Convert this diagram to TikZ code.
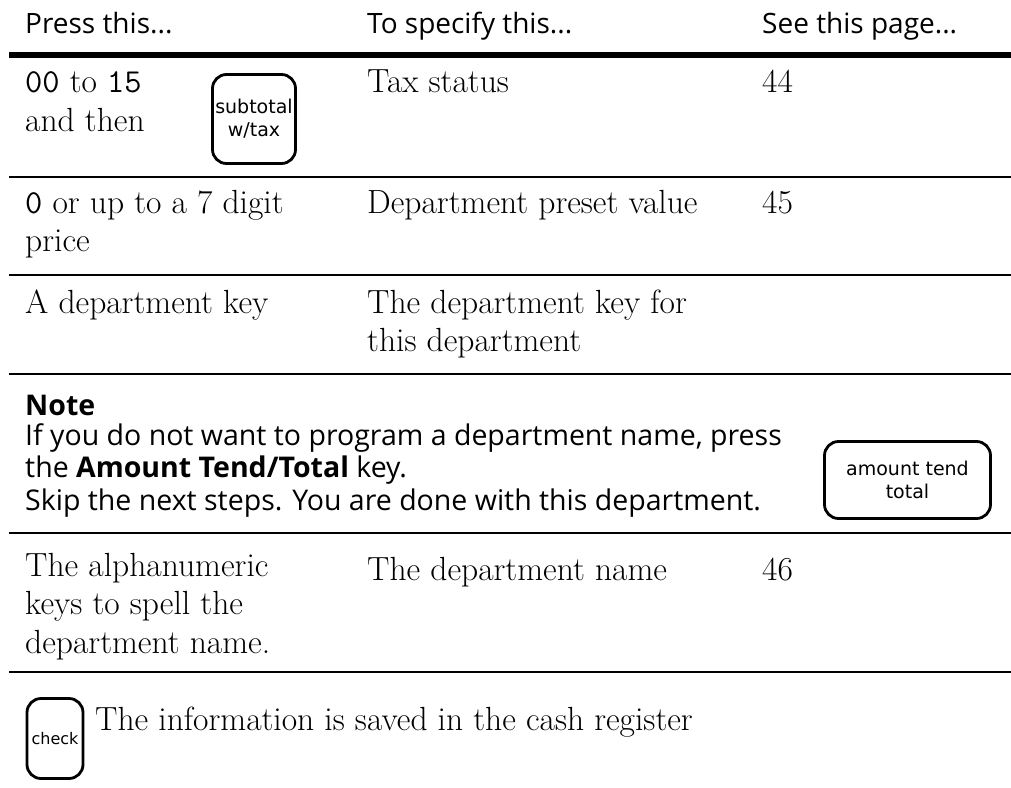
\documentclass[tikz,border=0pt]{standalone}
\usepackage{fontspec}
\setsansfont{Open Sans}
\newfontfamily\keyfont{DejaVu Sans}
\usetikzlibrary{positioning}

\begin{document}
\begin{tikzpicture}[
    x=1pt, y=-1pt,
    every node/.style={inner sep=0pt},
    hdr/.style={anchor=base west, font=\sffamily\fontsize{28}{30}\selectfont},
    cell/.style={anchor=base west, align=left,
                 font=\fontsize{33.5}{38.5}\selectfont},
    note/.style={anchor=base west, align=left,
                 font=\sffamily\fontsize{28.5}{32.5}\selectfont},
    key/.style={draw, line width=2.8pt, rounded corners=14pt, align=center,
                font=\keyfont\fontsize{19}{23}\selectfont},
    thickrule/.style={line width=6pt},
    rowrule/.style={line width=2.7pt},
]
\useasboundingbox (0,0) rectangle (1011,787);

%% Header
\node[hdr] (hpress) at (25,33)  {Press this...};
\node[hdr] (hspec)  at (367,33) {To specify this...};
\node[hdr] (hpage)  at (762,33) {See this page...};
\draw[thickrule] (9,55) -- (1011,55);

%% Row 1 (multi-line cells sit on their last baseline)
\node[cell] (press1) at (25,131)  {\texttt{00} to \texttt{15}\\and then};
\node[key, minimum width=83pt, minimum height=89pt] (subtotal) at (254,119) {subtotal\\w/tax};
\node[cell] (spec1)  at (367,92) {Tax status};
\node[cell] (page1)  at (762,92) {44};
\draw[rowrule] (9,177) -- (1011,177);

%% Row 2
\node[cell] (press2) at (25,251.5)  {\texttt{0} or up to a 7 digit\\price};
\node[cell] (spec2)  at (367,213) {Department preset value};
\node[cell] (page2)  at (762,213) {45};
\draw[rowrule] (9,275) -- (1011,275);

%% Row 3
\node[cell] (press3) at (25,313)  {A department key};
\node[cell] (spec3)  at (367,351.5) {The department key for\\this department};
\draw[rowrule] (9,374) -- (1011,374);

%% Note
\node[note] (notehead) at (25,415) {\textbf{Note}};
\node[note] (notetext) at (25,510) {If you do not want to program a department name, press\\
  the \textbf{Amount Tend/Total} key.\\Skip the next steps. You are done with this department.};
\node[key, minimum width=166pt, minimum height=77pt] (amount) at (907.5,480) {amount tend\\total};
\draw[rowrule] (9,533) -- (1011,533);

%% Row 4
\node[cell] (press4) at (25,653)  {The alphanumeric\\keys to spell the\\department name.};
\node[cell] (spec4)  at (367,580) {The department name};
\node[cell] (page4)  at (762,580) {46};
\draw[rowrule] (9,672) -- (1011,672);

%% Final step
\node[key, minimum width=56pt, minimum height=80pt,
      font=\keyfont\fontsize{16}{20}\selectfont] (check) at (55,738.5) {check};
\node[cell] (saved) at (95,730) {The information is saved in the cash register};

\end{tikzpicture}
\end{document}
